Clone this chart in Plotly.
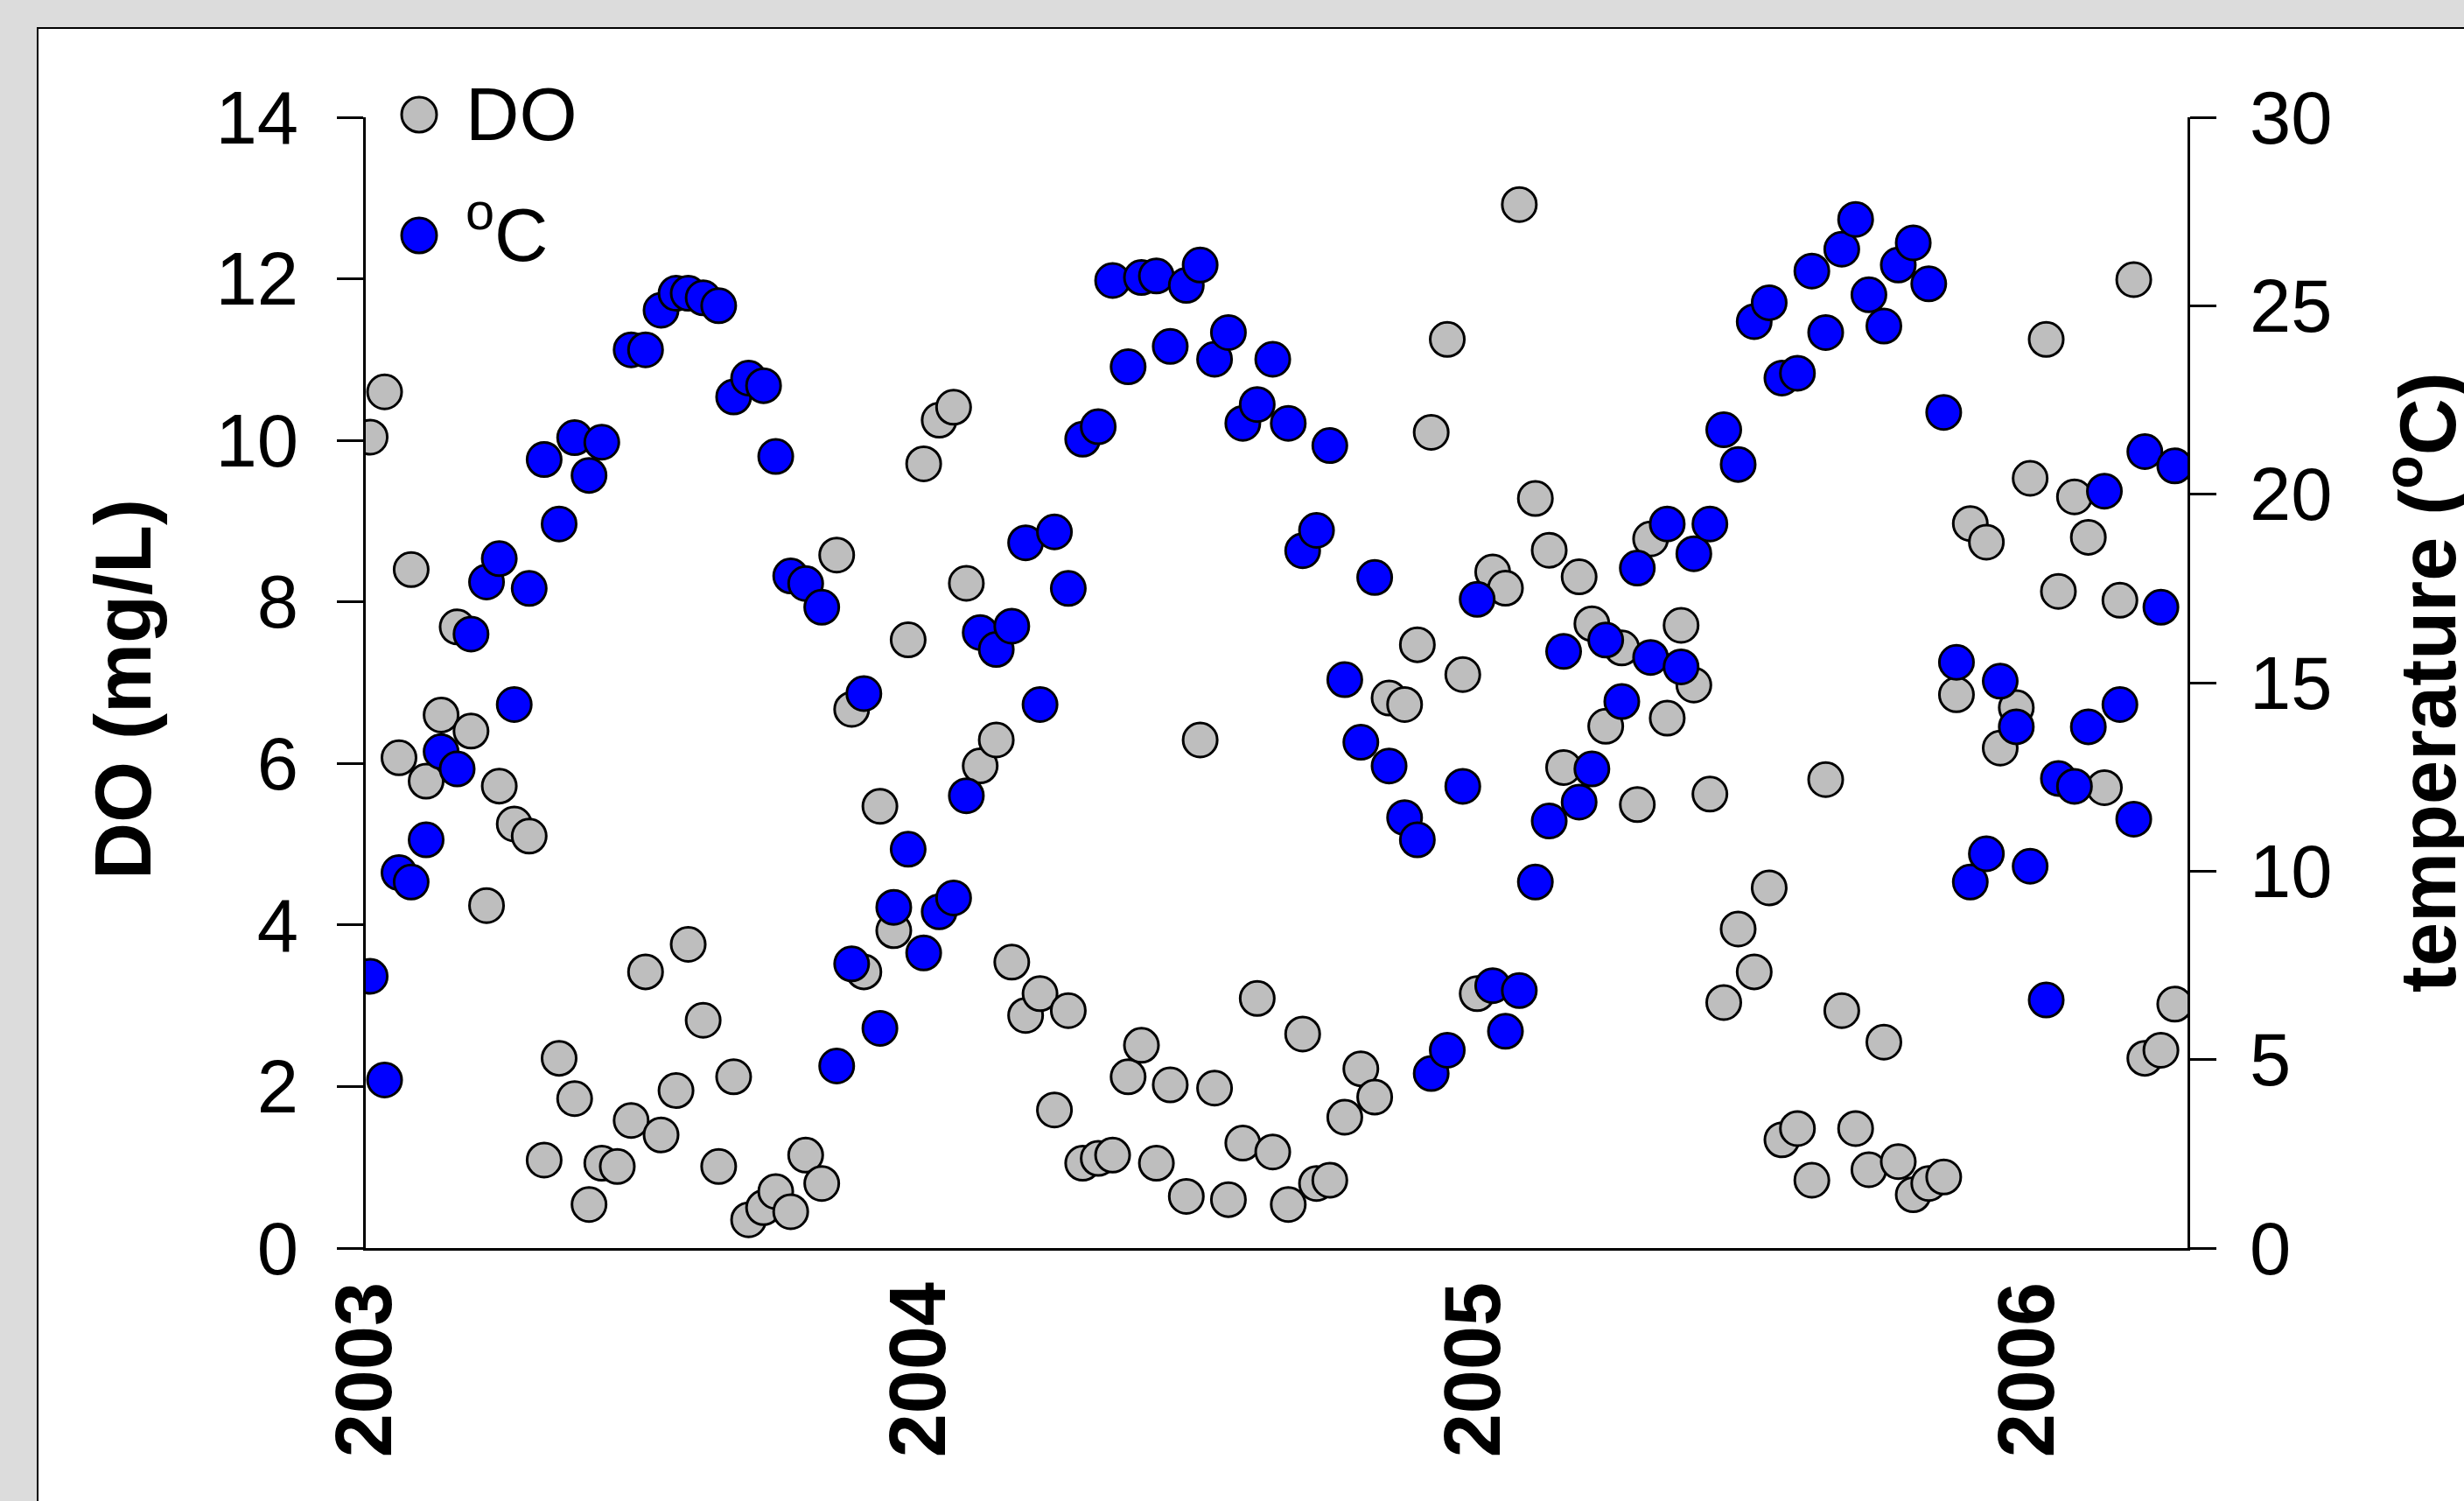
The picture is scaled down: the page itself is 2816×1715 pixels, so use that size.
import plotly.graph_objects as go

# ---------------- data ----------------
sample_year = [
    2003.008, 2003.034, 2003.060, 2003.082, 2003.109, 2003.136, 2003.165, 2003.190, 2003.218, 2003.241,
    2003.268, 2003.295, 2003.322, 2003.349, 2003.377, 2003.403, 2003.426, 2003.454, 2003.479, 2003.505,
    2003.533, 2003.560, 2003.582, 2003.609, 2003.637, 2003.664, 2003.691, 2003.718, 2003.740, 2003.767,
    2003.794, 2003.823, 2003.850, 2003.877, 2003.899, 2003.928, 2003.953, 2003.979, 2004.007, 2004.035,
    2004.061, 2004.084, 2004.109, 2004.138, 2004.166, 2004.191, 2004.217, 2004.243, 2004.268, 2004.294,
    2004.322, 2004.348, 2004.376, 2004.400, 2004.427, 2004.452, 2004.481, 2004.506, 2004.532, 2004.557,
    2004.583, 2004.609, 2004.637, 2004.665, 2004.691, 2004.716, 2004.740, 2004.767, 2004.796, 2004.821,
    2004.847, 2004.875, 2004.898, 2004.923, 2004.952, 2004.980, 2005.006, 2005.034, 2005.057, 2005.082,
    2005.111, 2005.136, 2005.162, 2005.190, 2005.213, 2005.238, 2005.267, 2005.295, 2005.319, 2005.349,
    2005.374, 2005.397, 2005.426, 2005.451, 2005.477, 2005.506, 2005.533, 2005.556, 2005.584, 2005.610,
    2005.635, 2005.664, 2005.689, 2005.713, 2005.740, 2005.766, 2005.793, 2005.821, 2005.848, 2005.871,
    2005.896, 2005.925, 2005.950, 2005.979, 2006.004, 2006.033, 2006.055, 2006.084, 2006.109, 2006.138,
    2006.166, 2006.191, 2006.211, 2006.240, 2006.265,
]

do_mgL = [
    10.04, 10.60, 6.07, 8.40, 5.78, 6.60, 7.69, 6.40, 4.24, 5.72,
    5.25, 5.10, 1.09, 2.35, 1.85, 0.54, 1.05, 1.01, 1.58, 3.42,
    1.40, 1.95, 3.76, 2.82, 1.01, 2.12, 0.35, 0.50, 0.70, 0.45,
    1.15, 0.80, 8.58, 6.67, 3.42, 5.47, 3.93, 7.53, 9.71, 10.25,
    10.41, 8.23, 5.97, 6.29, 3.54, 2.88, 3.15, 1.71, 2.94, 1.05,
    1.11, 1.15, 2.12, 2.51, 1.05, 2.02, 0.64, 6.29, 1.98, 0.60,
    1.30, 3.09, 1.19, 0.54, 2.65, 0.80, 0.84, 1.62, 2.22, 1.87,
    6.81, 6.73, 7.47, 10.10, 11.25, 7.10, 3.15, 8.37, 8.17, 12.92,
    9.28, 8.64, 5.95, 8.31, 7.73, 6.46, 7.43, 5.49, 8.78, 6.56,
    7.71, 6.97, 5.62, 3.04, 3.95, 3.42, 4.46, 1.34, 1.48, 0.84,
    5.80, 2.94, 1.48, 0.97, 2.55, 1.07, 0.66, 0.80, 0.88, 6.85,
    8.97, 8.74, 6.19, 6.69, 9.53, 11.25, 8.13, 9.30, 8.80, 5.70,
    8.02, 11.99, 2.35, 2.45, 3.02,
]

temp_C = [
    7.21, 4.46, 9.96, 9.71, 10.83, 13.17, 12.71, 16.29, 17.67, 18.29,
    14.42, 17.50, 20.92, 19.21, 21.50, 20.50, 21.38, None, 23.83, 23.83,
    24.88, 25.33, 25.33, 25.21, 25.00, 22.58, 23.08, 22.88, 21.00, 17.83,
    17.63, 17.00, 4.83, 7.54, 14.71, 5.83, 9.04, 10.58, 7.83, 8.92,
    9.29, 12.00, 16.33, 15.88, 16.50, 18.71, 14.42, 19.00, 17.50, 21.46,
    21.79, 25.67, 23.38, 25.75, 25.79, 23.92, 25.54, 26.08, 23.58, 24.29,
    21.88, 22.38, 23.58, 21.88, 18.50, 19.04, 21.29, 15.08, 13.42, 17.79,
    12.79, 11.42, 10.83, 4.63, 5.25, 12.25, 17.21, 6.96, 5.75, 6.83,
    9.71, 11.33, 15.83, 11.83, 12.71, 16.13, 14.50, 18.04, 15.67, 19.21,
    15.42, 18.42, 19.21, 21.71, 20.79, 24.58, 25.08, 23.08, 23.21, 25.92,
    24.29, 26.50, 27.29, 25.29, 24.46, 26.08, 26.67, 25.58, 22.17, 15.54,
    9.71, 10.46, 15.04, 13.83, 10.13, 6.58, 12.46, 12.25, 13.83, 20.08,
    14.42, 11.38, 21.13, 17.00, 20.75,
]

year_ticks = [2003, 2004, 2005, 2006]
year_labels = ["2003", "2004", "2005", "2006"]
do_ticks = [0, 2, 4, 6, 8, 10, 12, 14]
temp_ticks = [0, 5, 10, 15, 20, 25, 30]

# ---------------- styling ----------------
W, H = 2816, 1715
L, R, T, B = 418, 316, 134, 289
PW, PH = W - L - R, H - T - B


def px_x(px):
    return (px - L) / PW


def px_y(py):
    return (H - B - py) / PH


FONT = "Liberation Sans, Arial, sans-serif"
GRAY = "#bebebe"
BLUE = "#0000ff"
BG = "#dcdcdc"
MSIZE = 39
MLINE = 3

fig = go.Figure()

fig.add_trace(go.Scatter(
    x=sample_year, y=do_mgL, mode="markers", name="DO",
    marker=dict(size=MSIZE, color=GRAY, line=dict(color="black", width=MLINE)),
    yaxis="y", showlegend=False,
))
fig.add_trace(go.Scatter(
    x=sample_year, y=temp_C, mode="markers", name="ºC",
    marker=dict(size=MSIZE, color=BLUE, line=dict(color="black", width=MLINE)),
    yaxis="y2", showlegend=False,
))

axis_common = dict(
    showgrid=False, zeroline=False, showline=True, linecolor="black", linewidth=3,
    ticks="outside", ticklen=30, tickwidth=3, tickcolor="black",
    tickfont=dict(family=FONT, size=85, color="black"),
)

fig.update_layout(
    width=W, height=H,
    margin=dict(l=L, r=R, t=T, b=B, autoexpand=False),
    paper_bgcolor=BG,
    plot_bgcolor="rgba(0,0,0,0)",
    showlegend=False,
    xaxis=dict(
        range=[2003.0, 2006.288], showgrid=False, zeroline=False,
        showline=True, linecolor="black", linewidth=3, ticks="",
        tickmode="array", tickvals=year_ticks, ticktext=year_labels,
        tickangle=-90,
        tickfont=dict(family=FONT, size=90, color="black", weight="bold"),
        ticklabelstandoff=0,
    ),
    yaxis=dict(range=[0, 14], tickmode="array", tickvals=do_ticks,
               ticklabelstandoff=27, **axis_common),
    yaxis2=dict(range=[0, 30], tickmode="array", tickvals=temp_ticks,
                overlaying="y", side="right", anchor="x",
                ticklabelstandoff=21, **axis_common),
)

# white panel with black border (left/top edges visible)
fig.add_shape(type="rect", xref="paper", yref="paper", layer="below",
              x0=px_x(43), x1=px_x(3000), y0=px_y(1900), y1=px_y(32),
              fillcolor="white", line=dict(color="black", width=2))

# manual legend (symbols + text)
leg_x = px_x(479)
for py, col in [(131, GRAY), (269, BLUE)]:
    fig.add_shape(type="circle", xref="paper", yref="paper",
                  xsizemode="pixel", ysizemode="pixel",
                  xanchor=leg_x, yanchor=px_y(py),
                  x0=-20, x1=20, y0=-20, y1=20,
                  fillcolor=col, line=dict(color="black", width=MLINE))

fig.add_annotation(text="DO", xref="paper", yref="paper", x=px_x(530), y=px_y(131),
                   xanchor="left", yanchor="middle", showarrow=False,
                   font=dict(family=FONT, size=85, color="black"))
fig.add_annotation(text="<sup>o</sup>C", xref="paper", yref="paper", x=px_x(530), y=px_y(262),
                   xanchor="left", yanchor="middle", showarrow=False,
                   font=dict(family=FONT, size=85, color="black"))

# axis titles
fig.add_annotation(text="DO (mg/L)", xref="paper", yref="paper", x=px_x(141), y=px_y(788),
                   xanchor="center", yanchor="middle", textangle=-90, showarrow=False,
                   font=dict(family=FONT, size=90, color="black", weight="bold"))
fig.add_annotation(text="temperature (<sup>o</sup>C)", xref="paper", yref="paper",
                   x=px_x(2768), y=px_y(779),
                   xanchor="center", yanchor="middle", textangle=-90, showarrow=False,
                   font=dict(family=FONT, size=90, color="black", weight="bold"))

# place the figure flush with the page corner, like the reference picture
fig.write_html(
    "out.html",
    config={"displayModeBar": False},
    post_script="document.body.style.margin='0';document.body.style.background='" + BG + "';",
)
